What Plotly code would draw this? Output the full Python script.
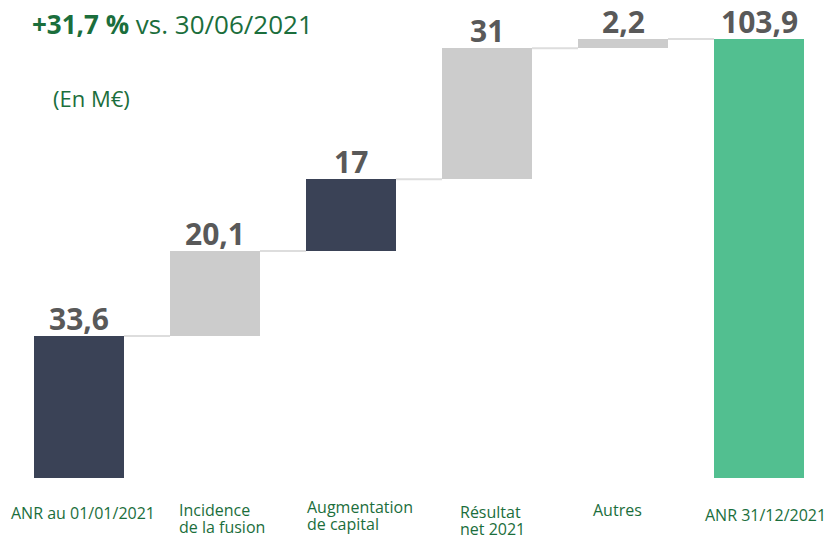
import plotly.graph_objects as go

categories = ["ANR au 01/01/2021", "Incidence<br>de la fusion", "Augmentation<br>de capital",
              "Résultat<br>net 2021", "Autres", "ANR 31/12/2021"]
values = [33.6, 20.1, 17.0, 31.0, 2.2, 103.9]
measures = ["absolute", "relative", "relative", "relative", "relative", "total"]
title_bold = "+31,7 %"
title_rest = " vs. 30/06/2021"
unit_label = "(En M€)"

NAVY = "#3a4256"
GRAY = "#cccccc"
GREEN_BAR = "#52bf90"
GREEN_TXT = "#1b6e3c"
LABEL_GRAY = "#595959"
bar_colors = [NAVY, GRAY, NAVY, GRAY, GRAY, GREEN_BAR]

W, H = 825, 536
PX_PER_CAT = 136
PX_PER_UNIT = 142 / 33.6
PLOT_BOTTOM = 478
FIRST_CENTER = 79

# cumulative computation
bases, tops = [], []
run = 0.0
for v, m in zip(values, measures):
    if m == "absolute":
        b, t = 0.0, v
        run = v
    elif m == "relative":
        b, t = run, run + v
        run = t
    else:
        b, t = 0.0, v
    bases.append(b)
    tops.append(t)

xs = list(range(len(values)))
heights = [t - b for b, t in zip(bases, tops)]
BW = 90 / PX_PER_CAT

fig = go.Figure()
fig.add_trace(go.Bar(x=xs, y=heights, base=bases, width=BW,
                     marker=dict(color=bar_colors, line=dict(width=0)),
                     hoverinfo="skip", showlegend=False))

for i in range(len(values) - 1):
    lvl = tops[i]
    fig.add_shape(type="line", xref="x", yref="y",
                  x0=xs[i] + BW / 2, x1=xs[i + 1] - BW / 2, y0=lvl, y1=lvl,
                  line=dict(color="#dddddd", width=2), layer="below")


def fmt(v):
    s = ("%.1f" % v).replace(".", ",")
    return s[:-2] if s.endswith(",0") else s


for i, v in enumerate(values):
    fig.add_annotation(x=xs[i], y=tops[i], xref="x", yref="y", text=fmt(v),
                       showarrow=False, yanchor="bottom", yshift=-5,
                       font=dict(family="Open Sans", size=30, color=LABEL_GRAY, weight="bold"))

# category labels, one annotation per line (page-pixel positions)
label_xshift = [4, 7, 11, 4, -6, 6]
label_xanchor_left = [False, True, True, True, False, False]
label_left_px = [None, 177, 305, 458, None, None]
first_line_y = [513, 510, 507, 512, 510, 515]
LINE_GAP = 17
ph = PLOT_BOTTOM
for i, c in enumerate(categories):
    for j, line in enumerate(c.split("<br>")):
        ypage = first_line_y[i] + j * LINE_GAP
        ypaper = (PLOT_BOTTOM - ypage) / ph
        if label_xanchor_left[i]:
            fig.add_annotation(x=label_left_px[i] / W, y=ypaper, xref="paper", yref="paper",
                               text=line, showarrow=False, xanchor="left", yanchor="middle",
                               font=dict(family="Open Sans", size=16, color=GREEN_TXT))
        else:
            fig.add_annotation(x=xs[i], y=ypaper, xref="x", yref="paper",
                               text=line, showarrow=False, xanchor="center", yanchor="middle",
                               xshift=label_xshift[i],
                               font=dict(family="Open Sans", size=16, color=GREEN_TXT))

fig.add_annotation(x=30 / W, y=(PLOT_BOTTOM - 24) / ph, xref="paper", yref="paper",
                   showarrow=False, xanchor="left", yanchor="middle",
                   text="<b>" + title_bold + "</b>" + title_rest,
                   font=dict(family="Open Sans", size=26, color=GREEN_TXT))
fig.add_annotation(x=51 / W, y=(PLOT_BOTTOM - 98) / ph, xref="paper", yref="paper",
                   showarrow=False, xanchor="left", yanchor="middle",
                   text=unit_label,
                   font=dict(family="Open Sans", size=22, color=GREEN_TXT))

x0 = -FIRST_CENTER / PX_PER_CAT
fig.update_layout(
    width=W, height=H,
    margin=dict(l=0, r=0, t=0, b=H - PLOT_BOTTOM),
    paper_bgcolor="white", plot_bgcolor="white",
    xaxis=dict(range=[x0, x0 + W / PX_PER_CAT], visible=False, fixedrange=True),
    yaxis=dict(range=[0, PLOT_BOTTOM / PX_PER_UNIT], visible=False, fixedrange=True),
    bargap=0,
)

fig.write_html("out.html", config={"displayModeBar": False},
               post_script="document.body.style.margin='0px';document.body.style.overflow='hidden';")
